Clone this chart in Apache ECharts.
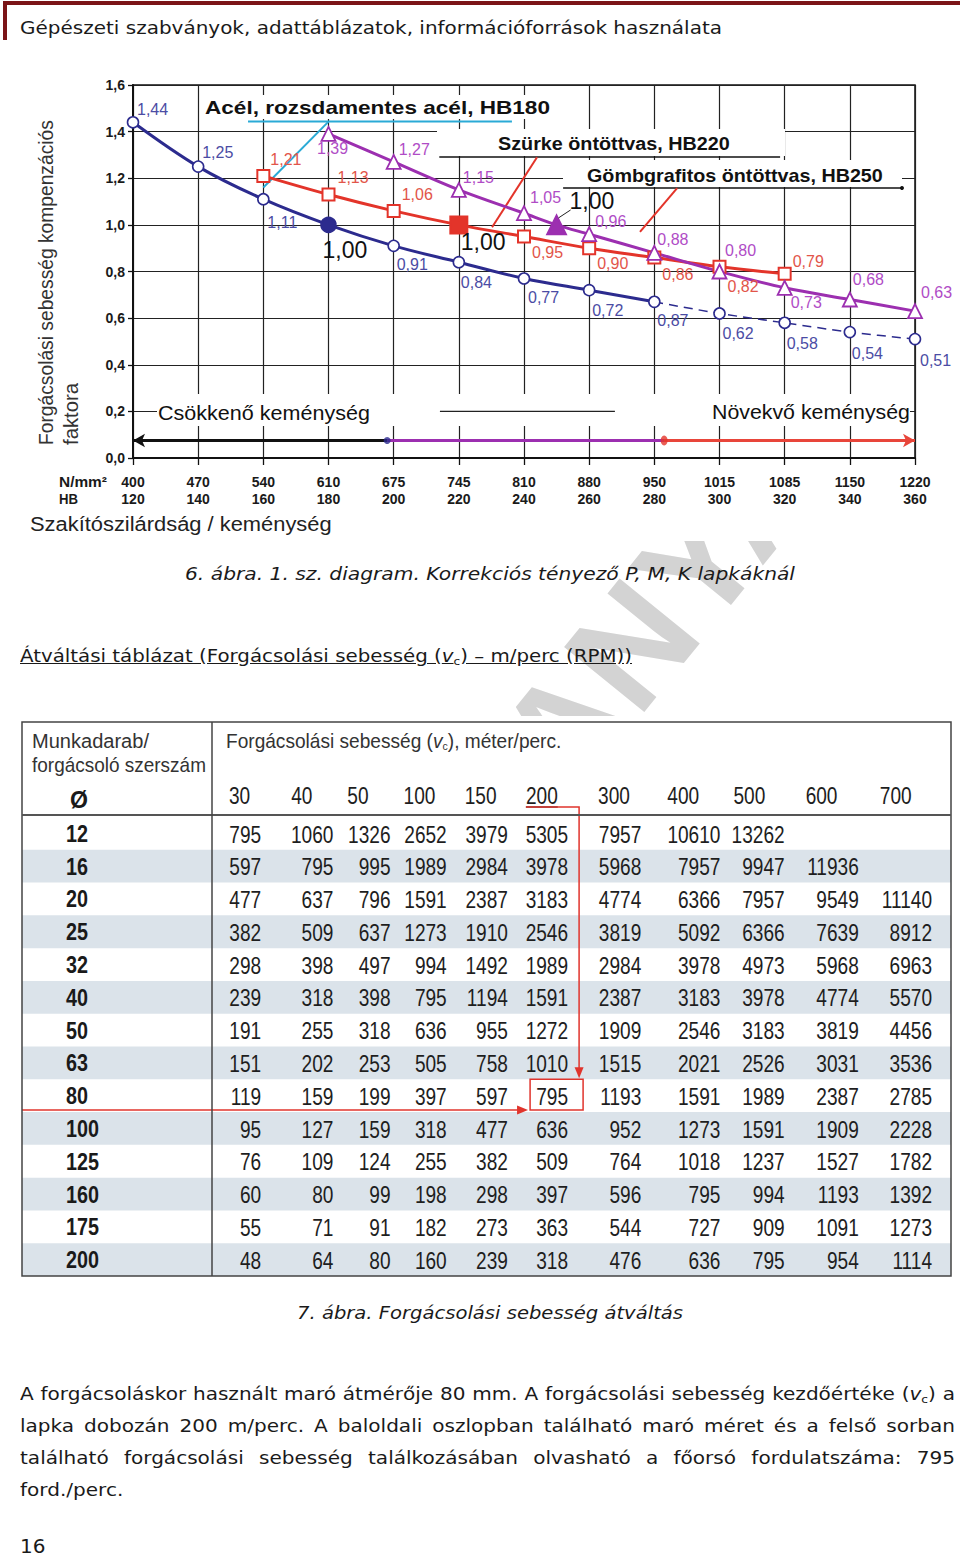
<!DOCTYPE html>
<html><head><meta charset="utf-8">
<script src="https://cdn.jsdelivr.net/npm/echarts@6/dist/echarts.min.js"></script>
<style>
body{margin:0;background:#fff;}
#page{position:relative;width:960px;height:1558px;overflow:hidden;background:#fff;}
#chart{position:absolute;left:0;top:0;width:960px;height:1558px;}
.t{position:absolute;z-index:5;font-family:"DejaVu Sans",Verdana,sans-serif;font-size:18px;line-height:32px;color:#1a1a1a;white-space:nowrap;transform-origin:0 50%;}
.it{font-style:italic;}
.j{text-align:justify;text-align-last:justify;}
sub{font-size:11px;line-height:0;vertical-align:-3px;}
</style></head>
<body><div id="page">
<div style="position:absolute;left:3px;top:1px;width:957px;height:4px;background:#7b1517;z-index:5"></div>
<div style="position:absolute;left:3px;top:1px;width:4px;height:39px;background:#7b1517;z-index:5"></div>
<div id="chart"></div>
<div class="t fit" data-w="702" style="left:20px;top:12px">Gépészeti szabványok, adattáblázatok, információforrások használata</div>
<div class="t it fit" data-w="610" style="left:185px;top:558px">6. ábra. 1. sz. diagram. Korrekciós tényező P, M, K lapkáknál</div>
<div class="t fit" data-w="612" style="left:20px;top:640px;text-decoration:underline">Átváltási táblázat (Forgácsolási sebesség (<i>v</i><sub>c</sub>) – m/perc (RPM))</div>
<div class="t it fit" data-w="386" style="left:297px;top:1297px">7. ábra. Forgácsolási sebesség átváltás</div>
<div class="t j" id="first" style="left:20px;top:1378px">A forgácsoláskor használt maró átmérője 80 mm. A forgácsolási sebesség kezdőértéke (<i>v</i><sub>c</sub>) a</div>
<div class="t j" style="left:20px;top:1410px">lapka dobozán 200 m/perc. A baloldali oszlopban található maró méret és a felső sorban</div>
<div class="t j" style="left:20px;top:1442px">található forgácsolási sebesség találkozásában olvasható a főorsó fordulatszáma: 795</div>
<div class="t" id="last" style="left:20px;top:1474px">ford./perc.</div>
<div class="t" style="left:20px;top:1530px;font-size:20px">16</div>
</div>
<script>
// ---------------- DATA ----------------
const HB = [120,140,160,180,200,220,240,260,280,300,320,340,360];
const MPA = ['400','470','540','610','675','745','810','880','950','1015','1085','1150','1220'];

// Acél, rozsdamentes acél, HB180 (blue)
const STEEL_HB = [120,140,160,180,200,220,240,260,280,300,320,340,360];
const STEEL = [1.44,1.25,1.11,1.00,0.91,0.84,0.77,0.72,0.67,0.62,0.58,0.54,0.51];
const STEEL_TXT = ['1,44','1,25','1,11','1,00','0,91','0,84','0,77','0,72','0,87','0,62','0,58','0,54','0,51'];
const STEEL_REF = 180;
const STEEL_DASH_FROM = 280;
// Szürke öntöttvas, HB220 (red)
const GRAY_HB = [160,180,200,220,240,260,280,300,320];
const GRAY = [1.21,1.13,1.06,1.00,0.95,0.90,0.86,0.82,0.79];
const GRAY_REF = 220;
// Gömbgrafitos öntöttvas, HB250 (purple)
const DUCT_HB = [180,200,220,240,250,260,280,300,320,340,360];
const DUCT = [1.39,1.27,1.15,1.05,1.00,0.96,0.88,0.80,0.73,0.68,0.63];
const DUCT_REF = 250;

// Hardness range bar (HB)
const RANGE_LOW = [198,120];
const RANGE_MID = [198,283];
const RANGE_HIGH = [283,360];

// Table
const SPEEDS = ['30','40','50','100','150','200','300','400','500','600','700'];
const DIAMS = ['12','16','20','25','32','40','50','63','80','100','125','160','175','200'];
const RPM = [
 [795,1060,1326,2652,3979,5305,7957,10610,13262,null,null],
 [597,795,995,1989,2984,3978,5968,7957,9947,11936,null],
 [477,637,796,1591,2387,3183,4774,6366,7957,9549,11140],
 [382,509,637,1273,1910,2546,3819,5092,6366,7639,8912],
 [298,398,497,994,1492,1989,2984,3978,4973,5968,6963],
 [239,318,398,795,1194,1591,2387,3183,3978,4774,5570],
 [191,255,318,636,955,1272,1909,2546,3183,3819,4456],
 [151,202,253,505,758,1010,1515,2021,2526,3031,3536],
 [119,159,199,397,597,795,1193,1591,1989,2387,2785],
 [95,127,159,318,477,636,952,1273,1591,1909,2228],
 [76,109,124,255,382,509,764,1018,1237,1527,1782],
 [60,80,99,198,298,397,596,795,994,1193,1392],
 [55,71,91,182,273,363,544,727,909,1091,1273],
 [48,64,80,160,239,318,476,636,795,954,1114]
];
const EXAMPLE = {diam:'80', speed:'200'};

// ---------------- STYLE ----------------
const FONT = '"Liberation Sans", Arial, Helvetica, sans-serif';
const C_BLUE = '#2c2b8e', C_RED = '#e3342a', C_PURP = '#9c2fb0', C_CYAN = '#2aaad6';
const L_BLUE = '#4b4ca4', L_RED = '#e2554a', L_PURP = '#b04cc6';
const LBL_STEEL = [[4,-13],[4,-14],[4,23],[-6,25],[3,19],[2,20],[4,19.5],[3,20],[3,19],[3,20.5],[2,21],[2,21],[5,21]];
const LBL_GRAY = [[7,-16],[9,-17],[8,-16],[2,17],[8,15.5],[8,15],[8,16.5],[8,20],[8,-12]];
const LBL_DUCT = [[-11.5,15],[5,-12],[4,-12],[6,-16],[13,-24],[6,-13],[3,-13],[5.5,-21.5],[6,15],[3,-19.5],[6,-19]];
// annotation geometry (data coords: HB, factor)
const ANN = {
  cyanDiag: [[160,1.16],[180,1.443]],
  cyanUnder: [[155.3,1.443],[236.3,1.443]],
  grayUnder: [[214,1.291],[318.6,1.291]],
  ductUnder: [[252,1.158],[356,1.158]],
  redPtr1: [[230.2,0.99],[244,1.29]],
  redPtr2: [[275.6,0.97],[287,1.158]],
  refPtr: [[250.6,1.03],[254.3,1.064]],
  seg02: [[214.2,0.2],[267.9,0.2]],
  rangeY: 0.075
};
// table layout (px nudges per column)
const NUM_NUDGE = [-18,-13,-23,-34,-40,-47,-41,-29,-32,-25,-19];
const HEAD_NUDGE = [17,12,1,-10,-16,-22,-17,-15,-16,-11,-4];
const LEFT_W = 190;
const NUM_FONT = '23px ' + FONT, NUM_SX = 0.83;

const mctx = document.createElement('canvas').getContext('2d');
function tw(text, font){ mctx.font = font; return mctx.measureText(text).width; }
function sx(text, font, w){ return w / tw(text, font); }

// ---------------- SERIES BUILD ----------------
function lbl(txt, off, color, big){
  return {show:true, formatter:txt, position:'inside', align:'left', verticalAlign:'middle',
    offset:off, color: big ? '#111' : color, fontSize: big ? 23 : 16, fontFamily:FONT, fontWeight:'normal'};
}
function itemsFor(xs, ys, txts, offs, ref, sym, size, refSize, color, lcolor, bw){
  return xs.map((x,i)=>{
    const isRef = x === ref;
    return {value:[x, ys[i]], symbol:sym, symbolSize: isRef ? refSize : size,
      itemStyle:{color: isRef ? color : '#fff', borderColor: color, borderWidth: bw, opacity:1},
      label: lbl(txts[i], offs[i], lcolor, isRef)};
  });
}
const fmt = v => v.toFixed(2).replace('.', ',');
const steelItems = itemsFor(STEEL_HB, STEEL, STEEL_TXT, LBL_STEEL, STEEL_REF, 'circle', 11, 15, C_BLUE, L_BLUE, 1.6);
const grayItems = itemsFor(GRAY_HB, GRAY, GRAY.map(fmt), LBL_GRAY, GRAY_REF, 'rect', 12, 17, C_RED, L_RED, 2);
const ductItems = itemsFor(DUCT_HB, DUCT, DUCT.map(fmt), LBL_DUCT, DUCT_REF, 'triangle', 14, 19, C_PURP, L_PURP, 1.8);
const dashStart = STEEL_HB.indexOf(STEEL_DASH_FROM);
const steelSolid = steelItems.slice(0, dashStart + 1);
const steelDash = steelItems.slice(dashStart).map((it, i) => i === 0 ? {value: it.value, symbol:'none', label:{show:false}} : it);

function annLine(data, color, width, extra){
  return Object.assign({type:'line', xAxisIndex:0, yAxisIndex:0, data, showSymbol:false, symbol:'none', silent:true, z:3,
    lineStyle:{color, width}, animation:false}, extra || {});
}

const cells = [];
RPM.forEach((row, r) => row.forEach((v, c) => { if (v != null) cells.push([c, r, v]); }));

const series = [
  annLine(ANN.cyanDiag, C_CYAN, 2),
  annLine(ANN.cyanUnder, C_CYAN, 2),
  annLine(ANN.grayUnder, '#111', 1.5),
  annLine(ANN.ductUnder.map((p,i)=> i===1 ? {value:p, symbol:'circle', symbolSize:4} : p), '#111', 1.5, {showSymbol:true, itemStyle:{color:'#111'}}),
  annLine(ANN.redPtr1, C_RED, 2),
  annLine(ANN.redPtr2, C_RED, 2),
  annLine(ANN.refPtr, '#222', 1, {z:6}),
  annLine(ANN.seg02, '#222', 1.2),
  {type:'line', name:'Acél, rozsdamentes acél, HB180', data: steelSolid, smooth:0.35, z:4, silent:true,
    lineStyle:{color:C_BLUE, width:3}, showSymbol:true, showAllSymbol:true},
  {type:'line', name:'Acél (extrapolált)', data: steelDash, smooth:0.3, z:4, silent:true,
    lineStyle:{color:C_BLUE, width:1.5, type:[9,6]}, showSymbol:true, showAllSymbol:true},
  {type:'line', name:'Szürke öntöttvas, HB220', data: grayItems, smooth:0.35, z:5, silent:true,
    lineStyle:{color:C_RED, width:3}, showSymbol:true, showAllSymbol:true},
  {type:'line', name:'Gömbgrafitos öntöttvas, HB250', data: ductItems, smooth:0.35, z:5, silent:true,
    lineStyle:{color:C_PURP, width:3}, showSymbol:true, showAllSymbol:true},
  {type:'line', data:[], xAxisIndex:0, yAxisIndex:0, silent:true, z:4,
    markLine:{silent:true, animation:false, symbolSize:[10,12], label:{show:false},
      data:[
        [{coord:[RANGE_LOW[0], ANN.rangeY], symbol:'none', lineStyle:{color:'#111', width:3, type:'solid'}}, {coord:[RANGE_LOW[1], ANN.rangeY], symbol:'arrow'}],
        [{coord:[RANGE_MID[0], ANN.rangeY], symbol:'none', lineStyle:{color:C_PURP, width:3, type:'solid'}}, {coord:[RANGE_MID[1], ANN.rangeY], symbol:'none'}],
        [{coord:[RANGE_HIGH[0], ANN.rangeY], symbol:'none', lineStyle:{color:'#e8453a', width:3, type:'solid'}}, {coord:[RANGE_HIGH[1], ANN.rangeY], symbol:'arrow'}]
      ]}},
  {type:'scatter', silent:true, z:6, data:[
      {value:[RANGE_LOW[0], ANN.rangeY], symbol:'circle', symbolSize:7, itemStyle:{color:C_BLUE}},
      {value:[RANGE_HIGH[0], ANN.rangeY], symbol:'circle', symbolSize:[7,10], itemStyle:{color:C_RED}}]},
  // ---- table ----
  {type:'custom', xAxisIndex:1, yAxisIndex:1, z:1, silent:true, data: DIAMS.map((d,i)=>[0,i]),
    renderItem(params, api){
      const cs = params.coordSys; const r = api.value(1);
      const p = api.coord([0, r]); const h = api.size([1,1])[1];
      const ch = [];
      if (r % 2 === 1) ch.push({type:'rect', shape:{x:cs.x-LEFT_W, y:p[1]-h/2, width:cs.width+LEFT_W, height:h}, style:{fill:'#dbe3ea'}});
      ch.push({type:'text', x:cs.x-LEFT_W+44, y:p[1]+1, scaleX:0.86, style:{text:DIAMS[r], font:'bold 23px '+FONT, fill:'#1a1a1a', align:'left', verticalAlign:'middle'}});
      return {type:'group', children:ch};
    }},
  {type:'custom', xAxisIndex:1, yAxisIndex:1, z:2, silent:true, data: cells,
    renderItem(params, api){
      const c = api.value(0), r = api.value(1), v = api.value(2);
      const p = api.coord([c, r]); const s = api.size([1,1]);
      return {type:'text', x:p[0]+s[0]/2+NUM_NUDGE[c], y:p[1]+1, scaleX:NUM_SX,
        style:{text:String(v), font:NUM_FONT, fill:'#1e1e1e', align:'right', verticalAlign:'middle'}};
    }},
  {type:'custom', xAxisIndex:1, yAxisIndex:1, z:2, silent:true, data: SPEEDS.map((s,i)=>[i,0]),
    renderItem(params, api){
      const cs = params.coordSys; const c = api.value(0);
      const p = api.coord([c, 0]); const s = api.size([1,1]);
      const x = p[0]-s[0]/2+HEAD_NUDGE[c], y = cs.y - 21;
      const ch = [{type:'text', x, y, scaleX:NUM_SX, style:{text:SPEEDS[c], font:NUM_FONT, fill:'#1e1e1e', align:'left', verticalAlign:'middle'}}];
      if (SPEEDS[c] === EXAMPLE.speed) {
        const w = tw(SPEEDS[c], NUM_FONT) * NUM_SX;
        ch.push({type:'line', shape:{x1:x, y1:y+11, x2:x+w, y2:y+11}, style:{stroke:'#333', lineWidth:1.5}, z2:5});
      }
      return {type:'group', children:ch};
    }},
  {type:'custom', xAxisIndex:1, yAxisIndex:1, z:4, silent:true,
    data:[[SPEEDS.indexOf(EXAMPLE.speed), DIAMS.indexOf(EXAMPLE.diam)]],
    renderItem(params, api){
      const cs = params.coordSys; const c = api.value(0), r = api.value(1);
      const p = api.coord([c, r]); const s = api.size([1,1]);
      const right = p[0]+s[0]/2+NUM_NUDGE[c];
      const hl = p[0]-s[0]/2+HEAD_NUDGE[c];
      const bx = right-38, bw = 53, by = p[1]-s[1]/2, bh = s[1]-2;
      const vx = right+11, hy = cs.y - 10;
      const red = '#e0342c';
      const st = {stroke:red, lineWidth:1.5, fill:null};
      return {type:'group', children:[
        {type:'rect', shape:{x:bx, y:by, width:bw, height:bh}, style:st},
        {type:'polyline', shape:{points:[[hl, hy],[vx, hy],[vx, by-10]]}, style:st},
        {type:'polygon', shape:{points:[[vx-4.5, by-12],[vx+4.5, by-12],[vx, by-1]]}, style:{fill:red}},
        {type:'line', shape:{x1:cs.x-LEFT_W, y1:by+bh, x2:bx-12, y2:by+bh}, style:st},
        {type:'polygon', shape:{points:[[bx-13, by+bh-4.5],[bx-13, by+bh+4.5],[bx-2, by+bh]]}, style:{fill:red}}
      ]};
    }}
];

function T(text, x, y, font, fill, w, extra){
  return Object.assign({type:'text', x, y, z:10, scaleX: w ? sx(text, font, w) : 1,
    style:{text, font, fill, align:'left', verticalAlign:'middle'}}, extra || {});
}
function R(x, y, w, h, z){ return {type:'rect', z: z == null ? 1 : z, shape:{x, y, width:w, height:h}, style:{fill:'#fff'}}; }

const F = s => s + 'px ' + FONT;
const HEAD_TXT = 'Forgácsolási sebesség (v), méter/perc.';
const graphic = [
  // watermark & image backgrounds
  {type:'text', z:-3, x:520, y:783, rotation:51*Math.PI/180, style:{text:'MUNKAANYAG', font:'bold 150px '+FONT, fill:'#d3d3d3', align:'center', verticalAlign:'middle'}},
  R(0, 44, 960, 497, -2),
  R(0, 716, 960, 842, -2),
  // chart label boxes
  R(200, 95, 356, 24), R(437, 129, 348, 27), R(563, 160, 339, 27), R(157, 394, 753, 32),
  T('Acél, rozsdamentes acél, HB180', 205, 107, 'bold '+F(19), '#111', 345),
  T('Szürke öntöttvas, HB220', 498, 143, 'bold '+F(19), '#111', 232),
  T('Gömbgrafitos öntöttvas, HB250', 587, 175, 'bold '+F(19), '#111', 296),
  T('Csökkenő keménység', 158, 413, F(21), '#111', 212),
  T('Növekvő keménység', 712, 412, F(21), '#111', 198),
  T('Forgácsolási sebesség kompenzációs', 46, 445, F(20), '#333', 325, {rotation:Math.PI/2}),
  T('faktora', 71, 445, F(20), '#333', 62, {rotation:Math.PI/2}),
  T('N/mm²', 59, 482, 'bold '+F(14), '#1a1a1a', 48),
  T('HB', 59, 499, 'bold '+F(14), '#1a1a1a', 19),
  T('Szakítószilárdság / keménység', 30, 524, F(21), '#222', 302),
  // table frame & header
  {type:'rect', z:8, shape:{x:22, y:722, width:929, height:554}, style:{fill:null, stroke:'#444', lineWidth:1.5}},
  {type:'line', z:8, shape:{x1:22, y1:815, x2:951, y2:815}, style:{stroke:'#555', lineWidth:2.2}},
  {type:'line', z:8, shape:{x1:212, y1:722, x2:212, y2:1276}, style:{stroke:'#444', lineWidth:1.5}},
  T('Munkadarab/', 32, 741, F(20), '#333', 117),
  T('forgácsoló szerszám', 32, 765, F(20), '#333', 174),
  T('Ø', 70, 800, 'bold '+F(23), '#1a1a1a', 18),
  {type:'text', x:226, y:741, z:10, scaleX: sx(HEAD_TXT, F(20), 330), style:{text:'Forgácsolási sebesség ({i|v}{s|c}), méter/perc.', font:F(20), fill:'#333', align:'left', verticalAlign:'middle',
     rich:{i:{fontStyle:'italic', font:'italic '+F(20), fill:'#333'}, s:{font:F(11), fill:'#333', padding:[10,0,0,0]}}}}
];

const option = {
  animation:false,
  textStyle:{fontFamily:FONT},
  grid:[
    {left:133, top:85, width:782, height:373, show:true, borderColor:'#111', borderWidth:1.5, backgroundColor:'transparent', outerBoundsMode:'none', containLabel:false},
    {left:212, top:817, width:739, height:459, outerBoundsMode:'none', containLabel:false}
  ],
  xAxis:[
    {gridIndex:0, type:'value', min:120, max:360, interval:20,
      axisLine:{show:true, onZero:false, lineStyle:{color:'#111', width:2}},
      axisTick:{show:true, length:7, lineStyle:{color:'#111', width:1.3}},
      axisLabel:{formatter:v => MPA[Math.round((v-120)/20)] + '\n' + Math.round(v), color:'#1a1a1a', fontWeight:'bold', fontSize:14, lineHeight:17, margin:15, showMinLabel:true, showMaxLabel:true, hideOverlap:false, fontFamily:FONT},
      splitLine:{show:true, lineStyle:{color:'#222', width:1.2}}},
    {gridIndex:1, type:'category', data:SPEEDS, show:false}
  ],
  yAxis:[
    {gridIndex:0, type:'value', min:0, max:1.6, interval:0.2,
      axisLine:{show:true, onZero:false, lineStyle:{color:'#111', width:2}},
      axisTick:{show:true, length:5, lineStyle:{color:'#111', width:1.3}},
      axisLabel:{formatter:v => v.toFixed(1).replace('.', ','), color:'#1a1a1a', fontWeight:'bold', fontSize:14, margin:8, showMinLabel:true, showMaxLabel:true, fontFamily:FONT},
      splitLine:{show:true, lineStyle:{color:'#222', width:1.2}}},
    {gridIndex:1, type:'category', data:DIAMS, inverse:true, show:false}
  ],
  series, graphic
};
const chart = echarts.init(document.getElementById('chart'), null, {renderer:'svg', width:960, height:1558});
chart.setOption(option);

// fit single-line HTML texts to the reference widths
document.querySelectorAll('.fit').forEach(el => {
  const w = el.getBoundingClientRect().width;
  const target = +el.dataset.w;
  if (w > 0) el.style.transform = 'scaleX(' + (target / w) + ')';
});
// body text: stretch so the (full) first line spans the column naturally
const first = document.getElementById('first');
const k = 930 / first.getBoundingClientRect().width;
const last = document.getElementById('last');
last.style.transform = 'scaleX(' + k + ')';
document.querySelectorAll('.j').forEach(el => {
  el.style.width = (935 / k) + 'px';
  el.style.transform = 'scaleX(' + k + ')';
});
</script>
</body></html>
